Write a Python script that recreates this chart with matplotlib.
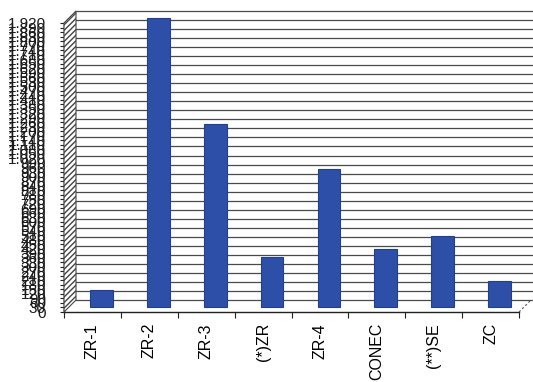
import matplotlib
matplotlib.use("Agg")
import matplotlib.pyplot as plt
from matplotlib import transforms
from matplotlib.patches import Polygon
import numpy as np

categories = ["ZR-1", "ZR-2", "ZR-3", "(*)ZR", "ZR-4", "CONEC", "(**)SE", "ZC"]
values = [113, 1920, 1215, 330, 915, 385, 472, 173]
y_max = 1920
label_step = 30
grid_step = 60

plt.rcParams["font.family"] = ["Liberation Sans", "DejaVu Sans"]

W, H = 533, 382
fig = plt.figure(figsize=(W / 100, H / 100), dpi=100)
fig.patch.set_facecolor("white")

# front frame of the pseudo-3D chart (pixel box)
x0, x1 = 64, 519
y_zero, y_top = 312, 23
ax = fig.add_axes([x0 / W, (H - y_zero) / H, (x1 - x0) / W, (y_zero - y_top) / H])
ax.set_xlim(-0.5, len(categories) - 0.5)
ax.set_ylim(0, y_max)
ax.patch.set_alpha(0)

depth_x, depth_y = 12, 12
wall_tr = transforms.offset_copy(ax.transData, fig=fig, x=depth_x, y=depth_y, units="dots")
bar_tr = transforms.offset_copy(ax.transData, fig=fig, x=9, y=5, units="dots")

# back-wall gridlines
xl = ax.get_xlim()
for v in np.arange(0, y_max + 1, grid_step):
    ax.plot([xl[0], xl[1] + 0.3], [v, v], color="#4a4a4a", lw=0.9, transform=wall_tr,
            clip_on=False, zorder=1)

# hatched side wall
fig.canvas.draw()
front = ax.transData.transform([(xl[0], 0), (xl[0], y_max)])
back = front + np.array([depth_x, depth_y])
side = Polygon([front[0], front[1], back[1], back[0]], closed=True,
               transform=transforms.IdentityTransform(), facecolor="white",
               edgecolor="#444444", hatch="//////", lw=0.8, zorder=0.5)
fig.add_artist(side)

# floor edge on the right
fr = ax.transData.transform([(xl[1], 0)])[0]
fig.add_artist(plt.Line2D([fr[0], fr[0] + depth_x], [fr[1], fr[1] + depth_y],
                          transform=transforms.IdentityTransform(),
                          color="#555555", lw=0.8, ls=(0, (2, 2))))

# bars
x = np.arange(len(categories))
ax.bar(x, values, width=0.4, color="#2d4fa8", edgecolor="#223f8c", lw=0.8,
       transform=bar_tr, zorder=3, clip_on=False)

# axes styling
for s in ["top", "right"]:
    ax.spines[s].set_visible(False)
ax.spines["left"].set_color("#222222")
ax.spines["bottom"].set_color("#222222")
ax.spines["left"].set_linewidth(1.0)
ax.spines["bottom"].set_linewidth(1.0)

ax.set_xticks(np.arange(-0.5, len(categories), 1.0))
ax.set_xticklabels([])
ax.set_xticks(x, minor=True)
ax.set_xticklabels(categories, minor=True, rotation=90, fontsize=11.5,
                   va="top", ha="center")
ax.tick_params(axis="x", which="major", length=4, direction="out", color="#222222")
ax.tick_params(axis="x", which="minor", length=0, pad=8)

yt = np.arange(0, y_max + 1, label_step)
ax.set_yticks(yt)
ax.set_yticklabels([f"{v:,}".replace(",", ".") for v in yt], fontsize=11)
ax.tick_params(axis="y", length=3, pad=10, color="#222222", labelcolor="#1a1a1a")

fig.savefig("out.png", dpi=100)
